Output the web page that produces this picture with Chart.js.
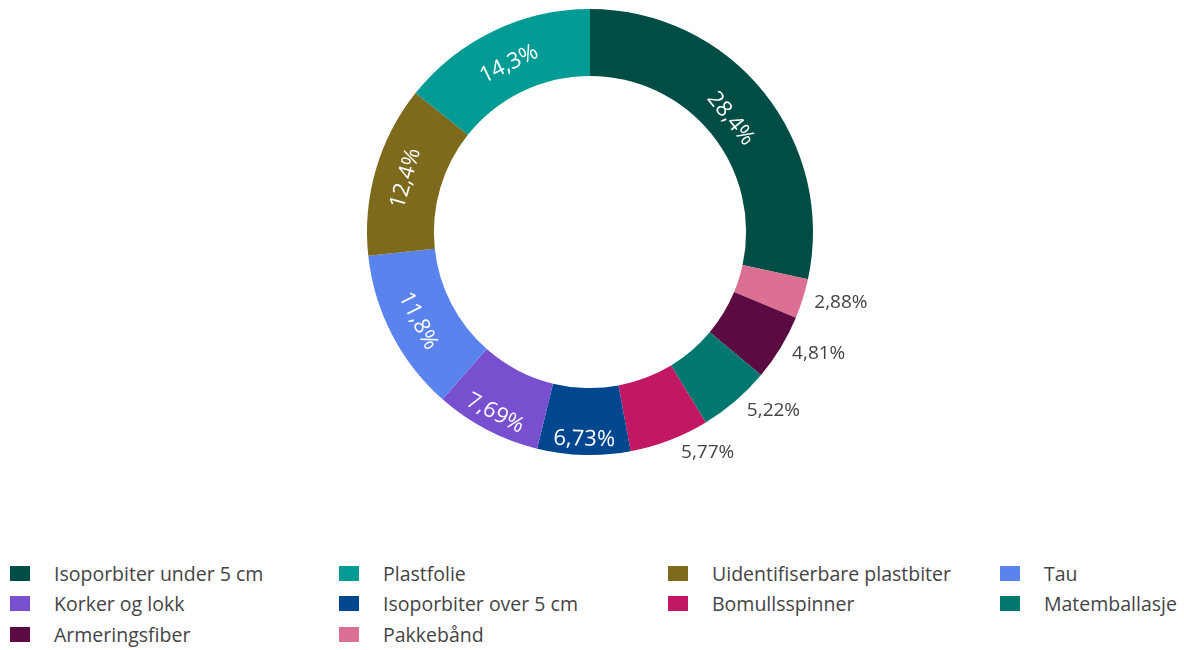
<!DOCTYPE html>
<html>
<head>
<meta charset="utf-8">
<script src="https://cdn.jsdelivr.net/npm/chart.js@4.4.1/dist/chart.umd.min.js"></script>
<style>
  body { margin: 0; background: #fff; font-family: "Open Sans", sans-serif; }
  #wrap { position: relative; width: 1184px; height: 650px; }
  #myChart { position: absolute; left: 0; top: 0; }
  #legend { position: absolute; left: 10px; top: 558px; display: grid; grid-template-columns: 329px 329px 332px auto; }
  .item { height: 30.5px; display: flex; align-items: center; font-size: 19.5px; color: #444; white-space: nowrap; }
  .sw { width: 20px; height: 15px; margin-right: 24px; flex: none; }
</style>
</head>
<body>
<div id="wrap">
  <canvas id="myChart" width="1184" height="480"></canvas>
  <div id="legend"></div>
</div>
<script>
// slices in clockwise order starting at 12 o'clock
var sliceNames = ['Isoporbiter under 5 cm', 'Pakkebånd', 'Armeringsfiber', 'Matemballasje', 'Bomullsspinner',
                  'Isoporbiter over 5 cm', 'Korker og lokk', 'Tau', 'Uidentifiserbare plastbiter', 'Plastfolie'];
var sliceValues = [28.4, 2.88, 4.81, 5.22, 5.77, 6.73, 7.69, 11.8, 12.4, 14.3];
var sliceColors = ['#004d46', '#db7092', '#5c0a42', '#00786f', '#c21763',
                   '#00478f', '#784fcf', '#5b83ee', '#7e6a1d', '#009b94'];
// legend reading order
var legendOrder = ['Isoporbiter under 5 cm', 'Plastfolie', 'Uidentifiserbare plastbiter', 'Tau',
                   'Korker og lokk', 'Isoporbiter over 5 cm', 'Bomullsspinner', 'Matemballasje',
                   'Armeringsfiber', 'Pakkebånd'];

function fmt(v) {
    return String(v).replace('.', ',') + '%';
}

// percentage labels: tangential inside the ring, horizontal outside for thin slices
var sliceLabels = {
    id: 'sliceLabels',
    afterDatasetsDraw: function(chart) {
        var ctx = chart.ctx;
        var meta = chart.getDatasetMeta(0);
        var vals = chart.data.datasets[0].data;
        meta.data.forEach(function(arc, i) {
            var p = arc.getProps(['x', 'y', 'startAngle', 'endAngle', 'innerRadius', 'outerRadius']);
            var mid = (p.startAngle + p.endAngle) / 2;
            var half = (p.endAngle - p.startAngle) / 2;
            var txt = fmt(vals[i]);
            ctx.save();
            ctx.textAlign = 'center';
            ctx.textBaseline = 'middle';
            if (vals[i] >= 6) {
                ctx.font = '22px "Open Sans"';
                var w = ctx.measureText(txt).width;
                var a = w / (22 * 0.78);
                var tanH = Math.tan(Math.min(half, 1.5));
                // find biggest box that fits the wedge, keep its centre radius
                var lo = 0, hi = p.outerRadius, c = (p.innerRadius + p.outerRadius) / 2;
                for (var k = 0; k < 40; k++) {
                    var t = (lo + hi) / 2;
                    var need = Math.max(p.innerRadius + t, t + a * t / tanH);
                    var room = Math.sqrt(Math.max(p.outerRadius * p.outerRadius - a * a * t * t, 0)) - t;
                    if (need <= room) { lo = t; c = room; } else { hi = t; }
                }
                var rot = mid + Math.PI / 2;
                while (rot > Math.PI) rot -= 2 * Math.PI;
                while (rot < -Math.PI) rot += 2 * Math.PI;
                if (rot > Math.PI / 2) rot -= Math.PI;
                if (rot < -Math.PI / 2) rot += Math.PI;
                ctx.translate(p.x + c * Math.cos(mid), p.y + c * Math.sin(mid));
                ctx.rotate(rot);
                ctx.fillStyle = '#ffffff';
                ctx.fillText(txt, 0, 0);
            } else {
                ctx.font = '19px "Open Sans"';
                var w2 = ctx.measureText(txt).width;
                var px = p.outerRadius * Math.cos(mid);
                var py = p.outerRadius * Math.sin(mid);
                var sx = px < 0 ? -1 : 1, sy = py < 0 ? -1 : 1;
                var dx = sx * w2 / 2, dy = sy * 11;
                var ox = dx + sx * Math.abs(dy) / 2 + sx * 6;
                var oy = dy / (1 + (px * px) / (py * py || 1e-6)) + sy * 3;
                ctx.fillStyle = '#444444';
                ctx.fillText(txt, p.x + px + ox, p.y + py + oy);
            }
            ctx.restore();
        });
    }
};

var ctx = document.getElementById('myChart').getContext('2d');
var myChart = new Chart(ctx, {
    type: 'doughnut',
    data: {
        labels: sliceNames,
        datasets: [{
            data: sliceValues,
            backgroundColor: sliceColors,
            borderWidth: 0
        }]
    },
    options: {
        responsive: false,
        animation: false,
        devicePixelRatio: 1,
        cutout: '70%',
        layout: { padding: { top: 9, bottom: 25, left: 0, right: 4 } },
        plugins: {
            legend: { display: false },
            tooltip: { enabled: false }
        }
    },
    plugins: [sliceLabels]
});

// html legend in four columns
var legend = document.getElementById('legend');
legendOrder.forEach(function(name) {
    var idx = sliceNames.indexOf(name);
    var item = document.createElement('div');
    item.className = 'item';
    var sw = document.createElement('span');
    sw.className = 'sw';
    sw.style.background = sliceColors[idx];
    item.appendChild(sw);
    item.appendChild(document.createTextNode(name));
    legend.appendChild(item);
});
</script>
</body>
</html>
